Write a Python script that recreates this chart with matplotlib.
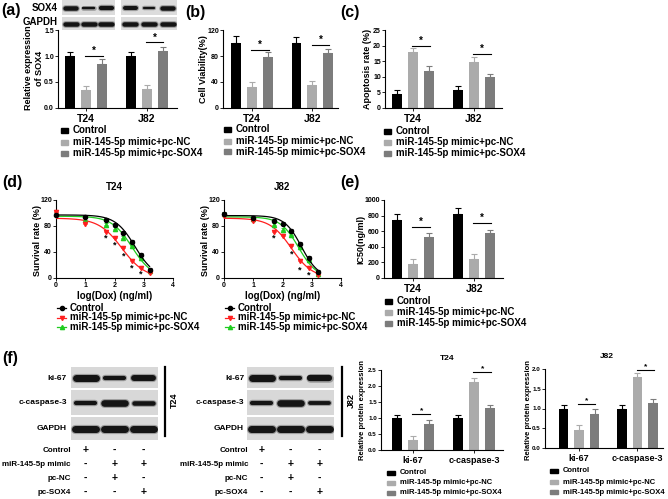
import numpy as np
import matplotlib.pyplot as plt
from matplotlib.patches import Rectangle
from matplotlib.lines import Line2D

plt.rcParams['font.family'] = ['Liberation Sans', 'DejaVu Sans']
plt.rcParams['font.weight'] = 'bold'
plt.rcParams['axes.labelweight'] = 'bold'
plt.rcParams['axes.titleweight'] = 'bold'

# ---- data ----
cells = ['T24', 'J82']
series = ['Control', 'miR-145-5p mimic+pc-NC', 'miR-145-5p mimic+pc-SOX4']
bar_colors = ['#000000', '#ababab', '#7c7c7c']

# (a) relative SOX4 expression
sox4_mean = [[1.0, 0.34, 0.85], [1.0, 0.37, 1.10]]
sox4_err = [[0.07, 0.09, 0.09], [0.08, 0.07, 0.08]]
sox4_sig = [1.0, 1.26]
# western blot band strength for (a)
sox4_band_t24 = [1.0, 0.55, 0.95]
sox4_band_j82 = [0.9, 0.5, 1.0]
gapdh_band = [1.0, 1.0, 1.0]

# (b) cell viability
viab_mean = [[100, 32, 78], [100, 35, 84]]
viab_err = [[11, 8, 8], [9, 7, 7]]
viab_sig = [90, 97]

# (c) apoptosis rate
apop_mean = [[4.6, 17.9, 12.0], [5.9, 14.9, 9.9]]
apop_err = [[1.3, 1.2, 1.6], [1.3, 1.3, 1.1]]
apop_sig = [19.8, 17.2]

# (d) survival rate vs log(Dox)
dox_log = [0, 1, 1.7, 2, 2.3, 2.6, 2.9, 3.2]
t24_ctrl = [97, 94.5, 90, 82, 70, 56, 36, 13]
t24_nc = [101, 83, 71.5, 62, 46, 26.5, 16, 7]
t24_sox4 = [99, 89, 82, 75, 62, 48.5, 31, 11]
j82_ctrl = [99, 93, 88, 83, 72, 53, 31, 9]
j82_nc = [96, 87, 71, 64, 50, 26, 15, 5]
j82_sox4 = [98, 91, 82, 74, 66, 48, 27, 6]
surv_err = [3, 3, 3, 3, 3, 3, 3, 3]
# fitted curves (top, logIC50, hill) for Control / NC / SOX4
t24_fit_top = [97, 92, 95]
t24_fit_x50 = [2.7, 2.25, 2.6]
t24_fit_hill = [1.3, 1.1, 1.25]
j82_fit_top = [96, 92, 94]
j82_fit_x50 = [2.65, 2.3, 2.55]
j82_fit_hill = [1.5, 1.2, 1.4]
t24_star_x = [1.7, 2, 2.3, 2.6, 2.9]
t24_star_y = [61, 50, 34, 16, 6]
j82_star_x = [1.7, 2.3, 2.6, 2.9]
j82_star_y = [61, 37, 13, 4]

# (e) IC50
ic50_mean = [[745, 183, 532], [817, 247, 574]]
ic50_err = [[76, 60, 51], [77, 59, 47]]
ic50_sig = [651, 702]

# (f) protein expression
proteins = ['ki-67', 'c-caspase-3']
t24_prot_mean = [[1.0, 0.31, 0.81], [1.0, 2.13, 1.31]]
t24_prot_err = [[0.09, 0.13, 0.13], [0.08, 0.12, 0.10]]
t24_prot_sig = [1.12, 2.44]
j82_prot_mean = [[1.0, 0.46, 0.87], [1.0, 1.80, 1.13]]
j82_prot_err = [[0.08, 0.11, 0.11], [0.10, 0.10, 0.11]]
j82_prot_sig = [1.12, 1.97]
# blot band strength for (f)
t24_ki67_band = [1.0, 0.6, 0.85]
t24_casp_band = [0.6, 0.95, 0.65]
j82_ki67_band = [1.0, 0.6, 0.9]
j82_casp_band = [0.6, 0.95, 0.55]
table_rows = ['Control', 'miR-145-5p mimic', 'pc-NC', 'pc-SOX4']
table_signs = [['+', '-', '-'], ['-', '+', '+'], ['-', '+', '-'], ['-', '-', '+']]

line_colors = ['#000000', '#ff1f1f', '#1fcc1f']
line_markers = ['o', 'v', '^']

W, H = 668, 499
fig = plt.figure(figsize=(W / 100, H / 100), dpi=100)


def px_axes(x0, y0, x1, y1):
    return fig.add_axes([x0 / W, 1 - y1 / H, (x1 - x0) / W, (y1 - y0) / H])


def ftext(x, y, s, **kw):
    fig.text(x / W, 1 - y / H, s, **kw)


def style_axes(ax, fs):
    for s in ['top', 'right']:
        ax.spines[s].set_visible(False)
    for s in ['left', 'bottom']:
        ax.spines[s].set_linewidth(0.8)
    ax.tick_params(direction='out', length=2, width=0.6, labelsize=fs, pad=1)


def bar_panel(rect, means, errs, sig, ylim, yticks, ytl, xlim, cats, gap=3.8,
              fs=5, fs_cat=7.5, star_fs=7):
    ax = px_axes(*rect)
    centers = []
    for g in range(len(means)):
        c = g * gap
        centers.append(c)
        for i in range(3):
            x = c + i - 1
            ax.bar(x, means[g][i], width=0.62, color=bar_colors[i], zorder=2)
            ax.errorbar(x, means[g][i], yerr=[[0], [errs[g][i]]], color=bar_colors[i],
                        capsize=2, elinewidth=0.8, capthick=0.8, zorder=1)
        ax.plot([c - 0.05, c + 1.05], [sig[g], sig[g]], color='black', lw=0.8, clip_on=False)
        ax.text(c + 0.5, sig[g], '*', ha='center', va='bottom', fontsize=star_fs, clip_on=False)
    ax.set_xlim(*xlim)
    ax.set_ylim(*ylim)
    ax.set_yticks(yticks, ytl)
    ax.set_xticks(centers, cats, fontsize=fs_cat, fontweight='bold')
    style_axes(ax, fs)
    ax.tick_params(axis='x', labelsize=fs_cat, pad=2)
    return ax


def bar_legend(x, ys, fs, sq=(7, 5), gap=5):
    for i in range(3):
        fig.add_artist(Rectangle((x / W, 1 - (ys[i] + sq[1] / 2) / H), sq[0] / W, sq[1] / H,
                                 transform=fig.transFigure, color=bar_colors[i]))
        ftext(x + sq[0] + gap, ys[i], series[i], va='center', fontsize=fs)


def blot_row(x0, y0, x1, y1, levels, band_w, band_h, bg='#d8d8d8'):
    ax = px_axes(x0, y0, x1, y1)
    ax.set_xlim(0, 3)
    ax.set_ylim(0, 1)
    ax.set_facecolor(bg)
    for s in ax.spines.values():
        s.set_visible(False)
    ax.set_xticks([])
    ax.set_yticks([])
    half = band_w / (x1 - x0) * 3 / 2
    for i, lv in enumerate(levels):
        c = i + 0.5
        hw = half * (0.8 + 0.2 * lv)
        lw = band_h * lv * 0.72
        ax.plot([c - hw, c + hw], [0.5, 0.5], color='#555555', lw=lw + 1.6,
                solid_capstyle='round', alpha=0.45)
        ax.plot([c - hw, c + hw], [0.5, 0.5], color='#141414', lw=lw,
                solid_capstyle='round')
    return ax


# ---------------- (a) ----------------
ftext(1, 11, '(a)', fontsize=11.5, ha='left', va='center')
blot_row(62, 0, 115, 15, sox4_band_t24, 11, 4.5, bg='#dcdcdc')
blot_row(62, 17, 115, 31, gapdh_band, 12, 4.5, bg='#dcdcdc')
blot_row(121, 0, 177, 15, sox4_band_j82, 11, 4.5, bg='#dcdcdc')
blot_row(121, 17, 177, 31, gapdh_band, 12, 4.5, bg='#dcdcdc')
ftext(58, 8, 'SOX4', fontsize=7, ha='right', va='center')
ftext(58, 22, 'GAPDH', fontsize=7, ha='right', va='center')
bar_panel((58, 30, 177, 108), sox4_mean, sox4_err, sox4_sig, (0, 1.5),
          [0, 0.5, 1.0, 1.5], ['0.0', '0.5', '1.0', '1.5'], (-1.75, 5.7), cells)
ftext(34, 68, 'Relative expression\nof SOX4', fontsize=6.5, rotation=90,
      ha='center', va='center', multialignment='center')
bar_legend(61, [130, 142, 153], 7)

# ---------------- (b) ----------------
ftext(185, 13, '(b)', fontsize=11.5, ha='left', va='center')
bar_panel((223, 30, 338, 108), viab_mean, viab_err, viab_sig, (0, 120),
          [0, 40, 80, 120], ['0', '40', '80', '120'], (-1.8, 5.4), cells)
ftext(204, 69, 'Cell Viability(%)', fontsize=6.5, rotation=90, ha='center', va='center')
bar_legend(224, [129, 141, 152], 7)

# ---------------- (c) ----------------
ftext(340, 12, '(c)', fontsize=11.5, ha='left', va='center')
bar_panel((385, 30, 502, 108), apop_mean, apop_err, apop_sig, (0, 25),
          [0, 5, 10, 15, 20, 25], ['0', '5', '10', '15', '20', '25'], (-1.75, 5.55), cells)
ftext(368, 69, 'Apoptosis rate (%)', fontsize=6.5, rotation=90, ha='center', va='center')
bar_legend(384, [131, 142, 153], 7)

# ---------------- (d) ----------------
ftext(2, 183, '(d)', fontsize=11.5, ha='left', va='center')


def surv_panel(x0, title, data, fit_top, fit_x50, fit_hill, star_x, star_y):
    ax = px_axes(x0, 200, x0 + 117, 278)
    xs = np.linspace(0, 3.2, 120)
    for i in [2, 1, 0]:
        fit = fit_top[i] / (1 + 10 ** ((xs - fit_x50[i]) * fit_hill[i]))
        ax.plot(xs, fit, color=line_colors[i], lw=0.9, zorder=2 + (2 - i))
        ax.errorbar(dox_log, data[i], yerr=[[0] * len(surv_err), surv_err], fmt=line_markers[i],
                    color=line_colors[i], markersize=3, capsize=1.5, elinewidth=0.6,
                    capthick=0.6, zorder=3 + (2 - i), clip_on=False)
    for sx, sy in zip(star_x, star_y):
        ax.text(sx, sy, '*', ha='center', va='center', fontsize=6.5)
    ax.set_xlim(0, 4)
    ax.set_ylim(0, 120)
    ax.set_xticks([0, 1, 2, 3, 4])
    ax.set_yticks([0, 40, 80, 120])
    style_axes(ax, 5)
    ax.set_xlabel('log(Dox) (ng/ml)', fontsize=7, labelpad=1)
    ax.set_title(title, fontsize=7, pad=7)
    ftext(x0 - 19, 240, 'Survival rate (%)', fontsize=6.5, rotation=90, ha='center', va='center')
    # legend
    for i in range(3):
        y = [308, 317.5, 327][i]
        fig.add_artist(Line2D([(x0 + 1) / W, (x0 + 5.5) / W, (x0 + 10) / W], [1 - y / H] * 3,
                              color=line_colors[i], lw=0.9, marker=line_markers[i],
                              markersize=3, markevery=[1], transform=fig.transFigure))
        ftext(x0 + 14, y, series[i], fontsize=7, va='center')
    return ax


surv_panel(56, 'T24', [t24_ctrl, t24_nc, t24_sox4], t24_fit_top, t24_fit_x50, t24_fit_hill,
           t24_star_x, t24_star_y)
surv_panel(224, 'J82', [j82_ctrl, j82_nc, j82_sox4], j82_fit_top, j82_fit_x50, j82_fit_hill,
           j82_star_x, j82_star_y)

# ---------------- (e) ----------------
ftext(340, 183, '(e)', fontsize=11.5, ha='left', va='center')
bar_panel((384, 200, 503, 278), ic50_mean, ic50_err, ic50_sig, (0, 1000),
          [0, 200, 400, 600, 800, 1000], ['0', '200', '400', '600', '800', '1000'],
          (-1.8, 5.6), cells)
ftext(361, 239, 'IC50(ng/ml)', fontsize=6.5, rotation=90, ha='center', va='center')
bar_legend(385, [301, 312, 323], 7)

# ---------------- (f) ----------------
ftext(2, 358, '(f)', fontsize=11.5, ha='left', va='center')


def blot_block(x0, x1, label_x, ki67, casp, cell, bar_x):
    blot_row(x0, 367, x1, 388, ki67, 20, 7)
    blot_row(x0, 390, x1, 415, casp, 21, 7)
    blot_row(x0, 417, x1, 440, gapdh_band, 21, 7)
    ftext(label_x, 378, 'ki-67', fontsize=6, ha='right', va='center')
    ftext(label_x, 403, 'c-caspase-3', fontsize=6, ha='right', va='center')
    ftext(label_x, 429, 'GAPDH', fontsize=6, ha='right', va='center')
    fig.add_artist(Line2D([bar_x / W] * 2, [1 - 367 / H, 1 - 436 / H], color='black', lw=1.6,
                          transform=fig.transFigure))
    ftext(bar_x + 9, 400, cell, fontsize=6.5, rotation=90, ha='center', va='center')
    lane_w = (x1 - x0) / 3
    for r, (row, signs) in enumerate(zip(table_rows, table_signs)):
        y = [450, 464, 478, 492][r]
        ftext(label_x + 4, y, row, fontsize=5.8, ha='right', va='center')
        for i, s in enumerate(signs):
            ftext(x0 + lane_w * (i + 0.5), y, s, fontsize=7.5, ha='center', va='center')


blot_block(71, 158, 67, t24_ki67_band, t24_casp_band, 'T24', 165)
blot_block(247, 334, 244, j82_ki67_band, j82_casp_band, 'J82', 342)

bar_panel((381, 370, 503, 450), t24_prot_mean, t24_prot_err, t24_prot_sig, (0, 2.5),
          [0, 0.5, 1.0, 1.5, 2.0, 2.5], ['0.0', '0.5', '1.0', '1.5', '2.0', '2.5'],
          (-2.0, 5.6), proteins, fs=4.5, fs_cat=6.5, star_fs=6)
ftext(447, 358, 'T24', fontsize=6, ha='center', va='center')
ftext(363, 410, 'Relative protein expression', fontsize=5.5, rotation=90, ha='center', va='center')
bar_legend(387, [473, 483, 493], 5.5, sq=(8, 4), gap=5)

bar_panel((545, 369, 663, 448), j82_prot_mean, j82_prot_err, j82_prot_sig, (0, 2.0),
          [0, 0.5, 1.0, 1.5, 2.0], ['0.0', '0.5', '1.0', '1.5', '2.0'],
          (-2.2, 5.4), proteins, gap=3.75, fs=4.5, fs_cat=6.5, star_fs=6)
ftext(607, 357, 'J82', fontsize=6, ha='center', va='center')
ftext(528, 410, 'Relative protein expression', fontsize=5.5, rotation=90, ha='center', va='center')
bar_legend(550, [471, 482, 492], 5.5, sq=(8, 4), gap=5)

fig.savefig('out.png', dpi=100)
